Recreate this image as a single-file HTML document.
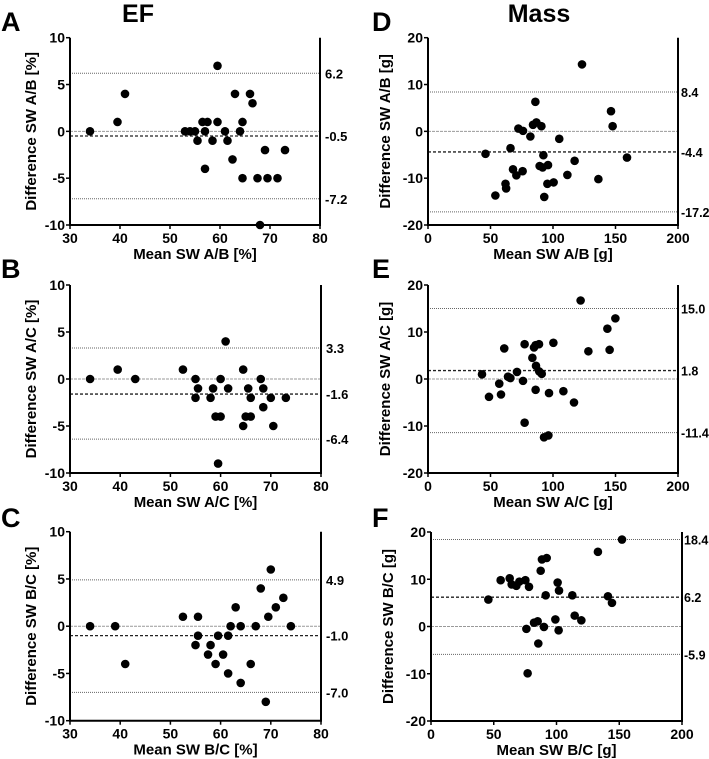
<!DOCTYPE html>
<html><head><meta charset="utf-8">
<style>
body{margin:0;background:#fff;}
svg{display:block;font-family:"Liberation Sans",Arial,sans-serif;}
</style></head>
<body>
<svg id="fig" width="709" height="759" viewBox="0 0 709 759">
<text x="138" y="22" font-size="25" font-weight="bold" text-anchor="middle">EF</text>
<text x="539" y="22" font-size="25" font-weight="bold" text-anchor="middle">Mass</text>
</svg>
<script>
// Panel A data
const aX=[34,39.5,41,53,54,55,55.5,56.5,57,57.5,57,58.5,59.5,59.5,61,61.5,62.5,63,64,64.5,64.5,66,66.5,67.5,68,69,69.5,71.5,73];
const aY=[0,1,4,0,0,0,-1,1,0,1,-4,-1,7,1,0,-1,-3,4,0,1,-5,4,3,-5,-10,-2,-5,-5,-2];
const aLines=[6.2,-0.5,-7.2];
// Panel B data
const bX=[34,39.5,43,52.5,55,55.5,55,58,58.5,59,60,60,61,61.5,59.5,64.5,64.5,65,65.5,66,66,68,68.5,68.5,70,70.5,73];
const bY=[0,1,0,1,0,-1,-2,-2,-1,-4,-4,0,4,-1,-9,1,-5,-4,-1,-2,-4,0,-1,-3,-2,-5,-2];
const bLines=[3.3,-1.6,-6.4];
// Panel C data
const cX=[34,39,41,52.5,55.5,55,55.5,57.5,58,59,59.5,60.5,61.5,61.5,62,63,64,64,66,67,68,69,69.5,70,71,72.5,74];
const cY=[0,0,-4,1,1,-2,-1,-3,-2,-4,-1,-3,-1,-5,0,2,0,-6,-4,0,4,-8,1,6,2,3,0];
const cLines=[4.9,-1.0,-7.0];
// Panel D data
const dX=[46,53.9,62,62.5,66,68,70.7,72.3,75.7,76,81.9,84,85.9,86.7,90.7,89.3,91.7,92.3,96,93,95.5,100.5,105,111.5,117.3,123.2,136.3,146.4,147.7,159.2];
const dY=[-4.8,-13.7,-11.2,-12.2,-3.6,-8.1,-9.4,0.6,-8.5,0.1,-1.1,1.4,6.3,1.9,1.1,-7.4,-7.7,-5.1,-7.2,-14,-11.2,-10.9,-1.6,-9.3,-6.3,14.3,-10.2,4.3,1.1,-5.6];
const dLines=[8.4,-4.4,-17.2];
// Panel E data
const eX=[43.2,48.8,57,58.4,61,64,65.9,71.2,76,77.3,77.3,83.5,84.8,86.1,86.4,86.1,88.8,89,91,92.8,96.3,96.8,100.3,108.3,116.8,122.1,128.3,143.5,145.3,149.9];
const eY=[1.0,-3.8,-1,-3.3,6.5,0.5,0.2,1.5,-0.4,7.4,-9.3,4.5,6.7,7.2,2.8,-2.3,7.4,1.6,1.1,-12.4,-12,-3,7.7,-2.6,-5,16.7,5.9,10.7,6.2,12.9];
const eLines=[15.0,1.8,-11.4];
// Panel F data
const fX=[45.7,55.5,62.7,64.3,68,70.4,75.2,76,78.1,77,82.1,85,85.5,87.4,88.4,92.2,90,91.4,99.1,100.9,102,101.7,112.6,114.5,119.8,133,141,144.2,152.2];
const fY=[5.7,9.8,10.2,8.9,8.6,9.5,9.8,-0.5,8.4,-9.9,0.8,1.1,-3.6,11.8,14.2,14.5,-0.1,6.6,1.5,9.3,7.6,-0.8,6.6,2.3,1.3,15.8,6.4,5,18.4];
const fLines=[18.4,6.2,-5.9];
const efTicksX=[30,40,50,60,70,80], efTicksY=[10,5,0,-5,-10];
const massTicksX=[0,50,100,150,200], massTicksY=[20,10,0,-10,-20];

const svg=document.getElementById('fig');
const NS='http://www.w3.org/2000/svg';
function mk(tag,attrs,parent){const e=document.createElementNS(NS,tag);for(const k in attrs)e.setAttribute(k,attrs[k]);(parent||svg).appendChild(e);return e;}

function panel(p){
  const g=mk('g',{});
  
  
  const xmin=p.tx[0],xmax=p.tx[p.tx.length-1],ymax=p.ty[0],ymin=p.ty[p.ty.length-1];
  const sx=v=>p.x0+(v-xmin)/(xmax-xmin)*(p.x1-p.x0);
  const sy=v=>p.y1-(v-ymin)/(ymax-ymin)*(p.y1-p.y0);
  const L=mk('text',{x:p.lx,y:p.ly,'font-size':27,'font-weight':'bold'},g);L.textContent=p.letter;
  
  
  const z=mk('line',{x1:p.x0,x2:p.x1,y1:sy(0),y2:sy(0),stroke:'#999','stroke-width':1,'stroke-dasharray':'3,1'},g);
  
  
  p.lines.forEach((v,i)=>{
    const ln=mk('line',{x1:p.x0,x2:p.x1,y1:sy(v),y2:sy(v),stroke:i==1?'#222':'#666','stroke-width':i==1?1.3:1,'stroke-dasharray':i==1?'3,2':'1,1'},g);
    
    
    const t=mk('text',{x:p.x1+p.rgap,y:sy(v)+5,'font-size':p.rfs,'font-weight':'bold'},g);t.textContent=v.toFixed(1);
    
    
  });
  mk('line',{x1:p.x0,x2:p.x0,y1:p.y0,y2:p.y1,stroke:'#000','stroke-width':2},g);
  mk('line',{x1:p.x1,x2:p.x1,y1:p.y0,y2:p.y1,stroke:'#000','stroke-width':2},g);
  mk('line',{x1:p.x0-1,x2:p.x1+1,y1:p.y1,y2:p.y1,stroke:'#000','stroke-width':2},g);
  p.tx.forEach(v=>{
    mk('line',{x1:sx(v),x2:sx(v),y1:p.y1,y2:p.y1+4,stroke:'#000','stroke-width':1.5},g);
    const t=mk('text',{x:sx(v),y:p.y1+18,'font-size':14,'font-weight':'bold','text-anchor':'middle'},g);t.textContent=v;
    
    
  });
  p.ty.forEach(v=>{
    mk('line',{x1:p.x0-4,x2:p.x0,y1:sy(v),y2:sy(v),stroke:'#000','stroke-width':1.5},g);
    const t=mk('text',{x:p.x0-5,y:sy(v)+5,'font-size':14,'font-weight':'bold','text-anchor':'end'},g);t.textContent=v;
    
    
  });
  const xt=mk('text',{x:(p.x0+p.x1)/2,y:p.y1+34,'font-size':15,'font-weight':'bold','text-anchor':'middle'},g);xt.textContent=p.xt;
  
  
  const cy=(p.y0+p.y1)/2;
  const yt=mk('text',{x:p.ytx,y:cy,'font-size':15,'font-weight':'bold','text-anchor':'middle',transform:`rotate(-90 ${p.ytx} ${cy})`},g);yt.textContent=p.yt;
  
  
  p.xs.forEach((v,i)=>{
    const c=mk('circle',{cx:sx(v),cy:sy(p.ys[i]),r:4.3,fill:'#000'},g);
    
    
  });
}
panel({letter:'A',lx:1,ly:31,x0:70,x1:320,y0:37.7,y1:225,tx:efTicksX,ty:efTicksY,xs:aX,ys:aY,lines:aLines,xt:'Mean SW A/B [%]',yt:'Difference SW A/B [%]',ytx:36,rgap:5,rfs:13});
panel({letter:'B',lx:1,ly:278,x0:70,x1:321,y0:285,y1:473,tx:efTicksX,ty:efTicksY,xs:bX,ys:bY,lines:bLines,xt:'Mean SW A/C [%]',yt:'Difference SW A/C [%]',ytx:36,rgap:5,rfs:13});
panel({letter:'C',lx:1,ly:527,x0:70,x1:321,y0:531.7,y1:720.7,tx:efTicksX,ty:efTicksY,xs:cX,ys:cY,lines:cLines,xt:'Mean SW B/C [%]',yt:'Difference SW B/C [%]',ytx:36,rgap:5,rfs:13});
panel({letter:'D',lx:372,ly:31,x0:428,x1:678,y0:37.7,y1:225,tx:massTicksX,ty:massTicksY,xs:dX,ys:dY,lines:dLines,xt:'Mean SW A/B [g]',yt:'Difference SW A/B [g]',ytx:390,rgap:3,rfs:12.5});
panel({letter:'E',lx:372,ly:278,x0:428,x1:678,y0:285,y1:473,tx:massTicksX,ty:massTicksY,xs:eX,ys:eY,lines:eLines,xt:'Mean SW A/C [g]',yt:'Difference SW A/C [g]',ytx:390,rgap:3,rfs:12.5});
panel({letter:'F',lx:372,ly:527,x0:431,x1:682,y0:532,y1:721,tx:massTicksX,ty:massTicksY,xs:fX,ys:fY,lines:fLines,xt:'Mean SW B/C [g]',yt:'Difference SW B/C [g]',ytx:393,rgap:2,rfs:12.5});
</script>
</body></html>
